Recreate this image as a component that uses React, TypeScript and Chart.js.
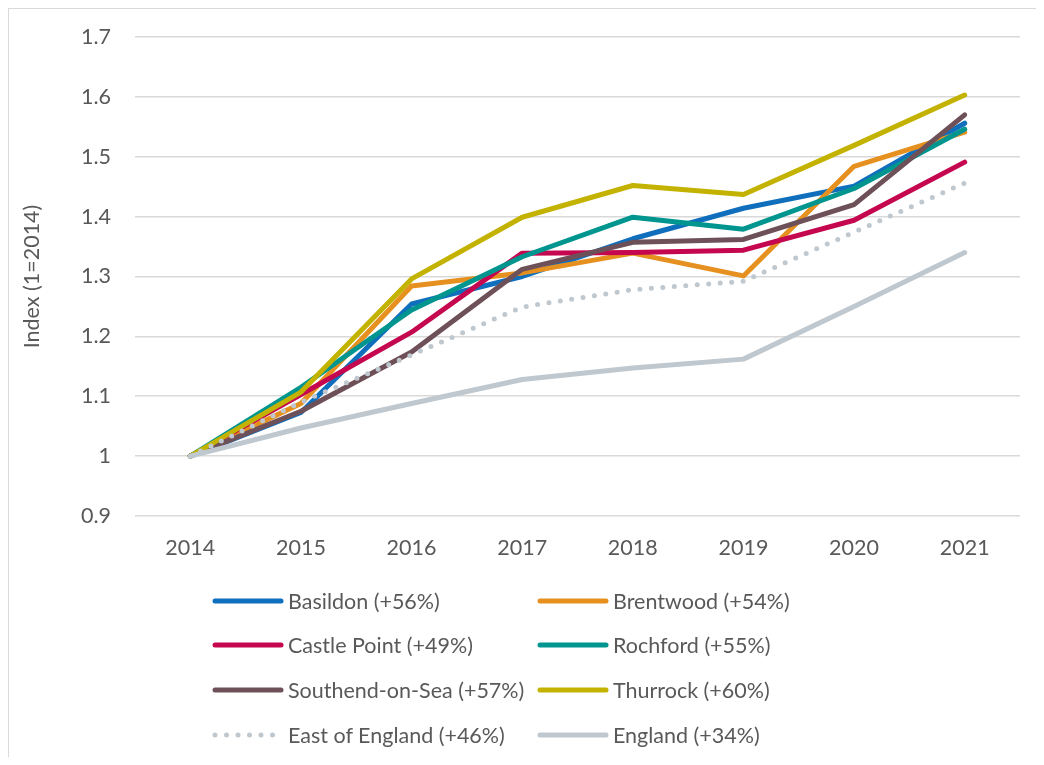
import React, { useEffect, useRef } from "react";
import { Chart, registerables } from "chart.js";

Chart.register(...registerables);

const years = ["2014", "2015", "2016", "2017", "2018", "2019", "2020", "2021"];

const basildon = [1.0, 1.073, 1.254, 1.3, 1.363, 1.414, 1.451, 1.556];
const brentwood = [1.0, 1.088, 1.284, 1.306, 1.339, 1.301, 1.484, 1.541];
const castlePoint = [1.0, 1.103, 1.207, 1.339, 1.34, 1.344, 1.394, 1.491];
const rochford = [1.0, 1.115, 1.244, 1.333, 1.399, 1.379, 1.447, 1.546];
const southend = [1.0, 1.075, 1.174, 1.312, 1.357, 1.362, 1.42, 1.57];
const thurrock = [1.0, 1.107, 1.296, 1.399, 1.452, 1.437, 1.519, 1.603];
const eastOfEngland = [1.0, 1.09, 1.169, 1.249, 1.278, 1.292, 1.374, 1.456];
const england = [1.0, 1.047, 1.088, 1.128, 1.147, 1.162, 1.25, 1.34];

const seriesNames = [
  "Basildon (+56%)",
  "Brentwood (+54%)",
  "Castle Point (+49%)",
  "Rochford (+55%)",
  "Southend-on-Sea (+57%)",
  "Thurrock (+60%)",
  "East of England (+46%)",
  "England (+34%)",
];
const seriesData = [basildon, brentwood, castlePoint, rochford, southend, thurrock, eastOfEngland, england];
const seriesColors = ["#0F6FBC", "#E6911F", "#C5074F", "#00958E", "#6E5058", "#C3B300", "#BFC8CF", "#BFC8CF"];
const seriesDotted = [false, false, false, false, false, false, true, false];

const yTickMin = 0.9;
const yTickMax = 1.7;
const yTickStep = 0.1;
const yTitle = "Index (1=2014)";

const FONT = "Lato, 'Open Sans', sans-serif";
const TEXT = "#595959";
const FS = 21.5;

export default function App() {
  const ref = useRef<HTMLCanvasElement | null>(null);

  useEffect(() => {
    if (!ref.current) return;
    const chart = new Chart(ref.current, {
      type: "line",
      data: {
        labels: years,
        datasets: seriesNames.map((name, i) => ({
          label: name,
          data: seriesData[i],
          borderColor: seriesColors[i],
          backgroundColor: seriesColors[i],
          borderWidth: 5,
          borderDash: seriesDotted[i] ? [0, 11.5] : [],
          borderCapStyle: "round" as const,
          borderJoinStyle: "round" as const,
          pointRadius: 0,
          tension: 0,
          fill: false,
          order: seriesNames.length - i,
        })),
      },
      options: {
        animation: false,
        responsive: false,
        maintainAspectRatio: false,
        layout: { padding: { top: 28, right: 24, bottom: 191, left: 0 } },
        plugins: { legend: { display: false }, tooltip: { enabled: false } },
        scales: {
          x: {
            offset: true,
            grid: { display: false, drawTicks: false },
            border: { display: false },
            ticks: { color: TEXT, font: { family: FONT, size: FS }, padding: 19, maxRotation: 0 },
            afterFit: (s: any) => {
              s.height = 50;
            },
          },
          y: {
            min: yTickMin,
            max: yTickMax,
            grid: { color: "#d9d9d9", lineWidth: 1.5, drawTicks: false },
            border: { display: false },
            ticks: {
              stepSize: yTickStep,
              color: TEXT,
              font: { family: FONT, size: FS },
              padding: 24,
              callback: (v: any) => {
                const n = Math.round(Number(v) * 10) / 10;
                return String(n);
              },
            },
            title: {
              display: true,
              text: yTitle,
              color: TEXT,
              font: { family: FONT, size: FS, weight: "normal" },
              padding: { top: 10, bottom: 0 },
            },
            afterFit: (s: any) => {
              s.width = 126;
              s.paddingTop = 10;
              s.paddingBottom = 10;
            },
          },
        },
      },
    });
    return () => chart.destroy();
  }, []);

  const colX = [203, 528];
  const rowY = [592, 636, 681, 726];

  return (
    <div
      style={{
        position: "relative",
        width: 1035,
        height: 748,
        borderTop: "1px solid #d9d9d9",
        borderLeft: "1px solid #d9d9d9",
        overflow: "hidden",
        background: "#fff",
      }}
    >
      <canvas ref={ref} width={1035} height={748} style={{ display: "block" }} />
      {seriesNames.map((name, i) => {
        const col = i % 2;
        const row = Math.floor(i / 2);
        return (
          <div
            key={name}
            style={{
              position: "absolute",
              left: colX[col],
              top: rowY[row] - 15,
              height: 30,
              display: "flex",
              alignItems: "center",
              fontFamily: FONT,
              fontSize: FS,
              color: TEXT,
              whiteSpace: "nowrap",
            }}
          >
            <svg width={72} height={10} style={{ marginRight: 4 }}>
              <line
                x1={3}
                y1={5}
                x2={69}
                y2={5}
                stroke={seriesColors[i]}
                strokeWidth={5}
                strokeLinecap="round"
                strokeDasharray={seriesDotted[i] ? "0 11.5" : undefined}
              />
            </svg>
            <span>{name}</span>
          </div>
        );
      })}
    </div>
  );
}
